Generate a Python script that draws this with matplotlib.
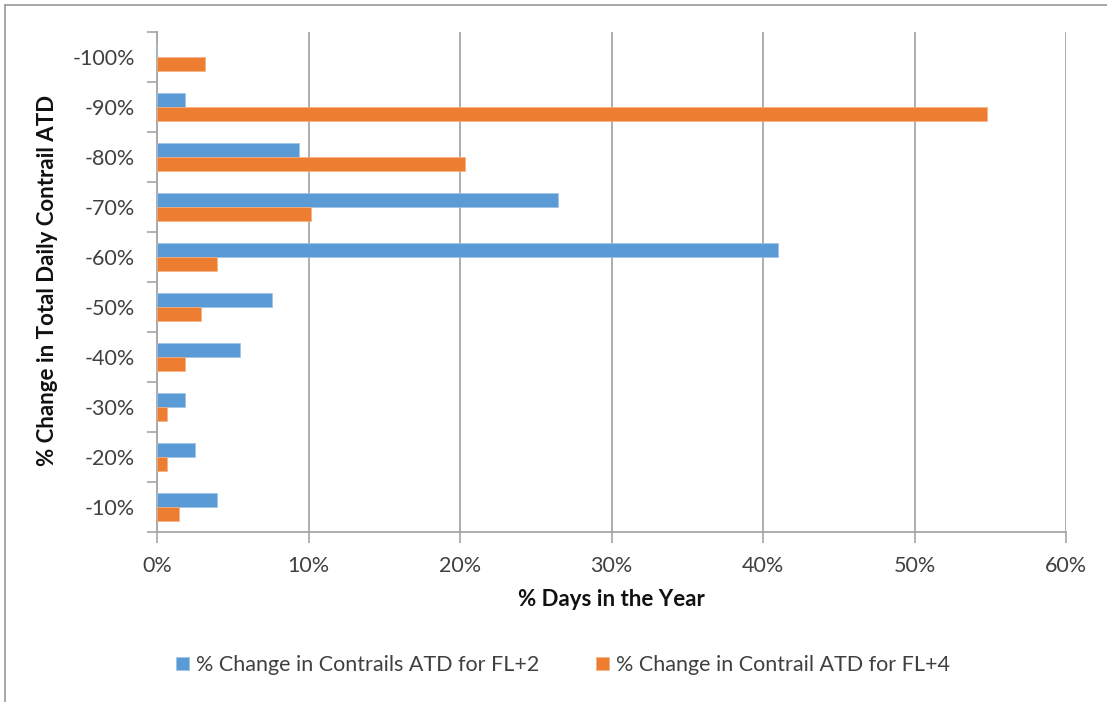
import matplotlib
matplotlib.use("Agg")
import matplotlib.pyplot as plt
from matplotlib.lines import Line2D
from matplotlib.ticker import FixedLocator, FuncFormatter
import numpy as np

plt.rcParams['font.family'] = ['Lato', 'DejaVu Sans']

categories = ["-10%", "-20%", "-30%", "-40%", "-50%", "-60%", "-70%", "-80%", "-90%", "-100%"]
fl2_values = [3.99, 2.53, 1.83, 5.46, 7.62, 41.0, 26.5, 9.39, 1.83, 0.0]
fl4_values = [1.45, 0.66, 0.66, 1.83, 2.91, 3.99, 10.15, 20.3, 54.77, 3.2]
x_ticks = [0, 10, 20, 30, 40, 50, 60]

blue = "#5B9BD5"
orange = "#ED7D31"
grid_gray = "#A6A6A6"
text_col = "#404040"

W, H = 1107, 702
fig = plt.figure(figsize=(W / 100, H / 100), dpi=100)
ax = fig.add_axes([157 / W, 1 - 532 / H, (1066 - 157) / W, (532 - 32) / H])

y = np.arange(len(categories))
bh = 0.28
ax.barh(y + bh / 2, fl2_values, height=bh, color=blue, edgecolor="#9DC3E6",
        linewidth=0.5, label="% Change in Contrails ATD for FL+2", zorder=3)
ax.barh(y - bh / 2, fl4_values, height=bh, color=orange, edgecolor="#F4B183",
        linewidth=0.5, label="% Change in Contrail ATD for FL+4", zorder=3)

ax.set_xlim(0, 60)
ax.set_ylim(-0.5, len(categories) - 0.5)

ax.set_xticks(x_ticks)
ax.xaxis.set_major_formatter(FuncFormatter(lambda v, p: f"{int(v)}%"))
ax.set_yticks(y)
ax.set_yticklabels(categories)
ax.yaxis.set_minor_locator(FixedLocator(np.arange(-0.5, len(categories), 1.0)))

ax.tick_params(axis="y", which="major", length=0, pad=16, labelsize=15.5, labelcolor=text_col)
ax.tick_params(axis="y", which="minor", length=7, width=1.2, color=grid_gray, direction="out")
ax.tick_params(axis="x", which="major", length=8, width=1.2, color=grid_gray,
               pad=9, labelsize=15.5, labelcolor=text_col)

ax.grid(axis="x", color=grid_gray, linewidth=1.3, zorder=0)
for side in ("top", "right"):
    ax.spines[side].set_visible(False)
for side in ("left", "bottom"):
    ax.spines[side].set_color(grid_gray)
    ax.spines[side].set_linewidth(1.3)

ax.set_xlabel("% Days in the Year", fontsize=16, fontweight="bold", color="#111111", labelpad=10)
fig.text(48 / W, 1 - 280 / H, "% Change in Total Daily Contrail ATD", rotation=90,
         ha="center", va="center", fontsize=16, fontweight="bold", color="#111111")

leg = fig.legend(loc="center", bbox_to_anchor=(563 / W, 1 - 665 / H), ncol=2, frameon=False,
                 fontsize=15.5, handlelength=0.6, handleheight=0.6, handletextpad=0.35,
                 columnspacing=2.6, labelcolor=text_col)

# outer chart frame
fig.add_artist(Line2D([5 / W, 1], [1 - 5 / H, 1 - 5 / H], color="#A0A0A0", linewidth=1.3,
                      transform=fig.transFigure))
fig.add_artist(Line2D([5 / W, 5 / W], [0, 1 - 5 / H], color="#A0A0A0", linewidth=1.3,
                      transform=fig.transFigure))

fig.savefig("out.png", dpi=100)
